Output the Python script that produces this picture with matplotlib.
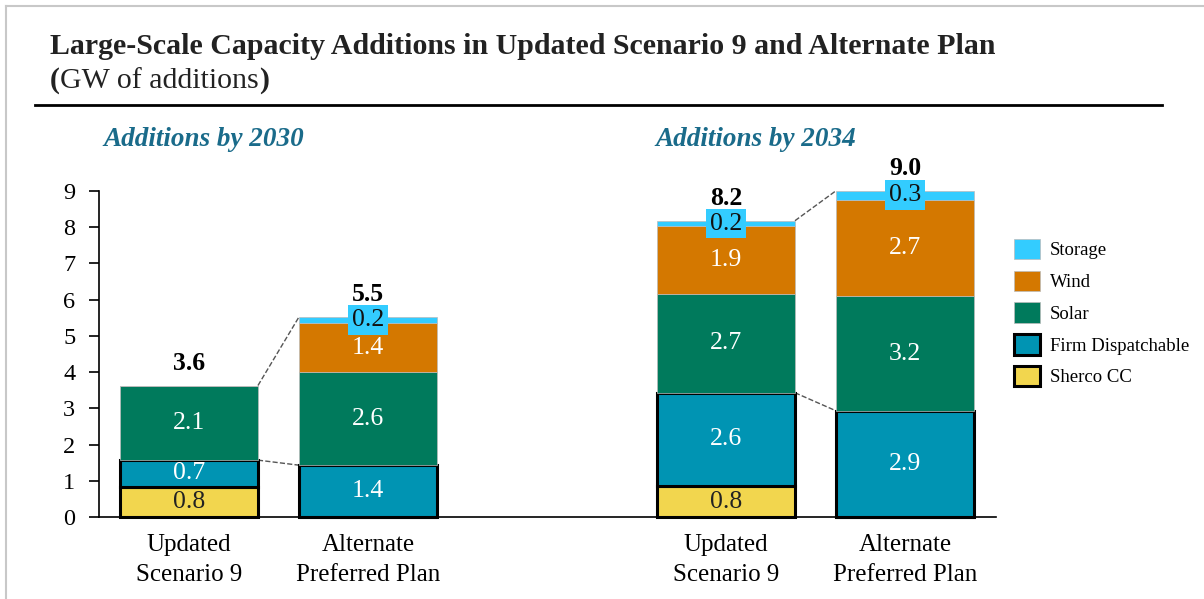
import matplotlib.pyplot as plt
import numpy as np

# bars: 2030 Updated, 2030 Alternate, 2034 Updated, 2034 Alternate
bar_pos = [0, 1, 3, 4]
bar_names = ['Updated\nScenario 9', 'Alternate\nPreferred Plan',
             'Updated\nScenario 9', 'Alternate\nPreferred Plan']

sherco = [0.84, 0.0, 0.85, 0.0]
firm = [0.73, 1.43, 2.58, 2.93]
solar = [2.06, 2.56, 2.74, 3.16]
wind = [0.0, 1.37, 1.85, 2.66]
storage = [0.0, 0.17, 0.16, 0.26]

series = ['Sherco CC', 'Firm Dispatchable', 'Solar', 'Wind', 'Storage']
colors = ['#F2D64E', '#0094B3', '#007A5C', '#D47800', '#33CCFF']
text_colors = ['#222222', 'white', 'white', 'white', '#111111']

section_titles = ['Additions by 2030', 'Additions by 2034']

plt.rcParams['font.family'] = ['Liberation Serif', 'DejaVu Serif']

fig = plt.figure(figsize=(12.04, 5.99), dpi=100)
ax = fig.add_axes([99 / 1204, 1 - 517 / 599, (996 - 99) / 1204, (517 - 191) / 599])

width = 0.77
values = [sherco, firm, solar, wind, storage]
bottom = np.zeros(4)
containers = []
for name, vals, col, tcol in zip(series, values, colors, text_colors):
    vals = np.array(vals)
    boxed = name in ('Sherco CC', 'Firm Dispatchable')
    bc = ax.bar(bar_pos, vals, width, bottom=bottom, color=col,
                edgecolor='black' if boxed else '#BBBBBB',
                linewidth=2.2 if boxed else 0.5, label=name, zorder=3,
                clip_on=False)
    containers.append(bc)
    for x, v, b in zip(bar_pos, vals, bottom):
        if v <= 0:
            continue
        if name == 'Storage':
            ax.text(x, b + v / 2, f'{v:.1f}', ha='center', va='center',
                    fontsize=18.5, color=tcol, zorder=5,
                    bbox=dict(boxstyle='square,pad=0.15', fc=col, ec='none'))
        else:
            ax.text(x, b + v / 2, f'{v:.1f}', ha='center', va='center',
                    fontsize=18.5, color=tcol, zorder=5)
    bottom = bottom + vals

totals = bottom
for x, t in zip(bar_pos, totals):
    ax.text(x, t + 0.3, f'{t:.1f}', ha='center', va='bottom',
            fontsize=18.5, fontweight='bold', zorder=5)

# dashed connectors between paired bars
firm_top = np.array(sherco) + np.array(firm)
for i in (0, 2):
    x0 = bar_pos[i] + width / 2
    x1 = bar_pos[i + 1] - width / 2
    ax.plot([x0, x1], [totals[i], totals[i + 1]], ls='--', color='#555555',
            lw=1, zorder=2, clip_on=False)
    ax.plot([x0, x1], [firm_top[i], firm_top[i + 1]], ls='--', color='#555555',
            lw=1, zorder=2, clip_on=False)

ax.set_xlim(-0.503, 4.508)
ax.set_ylim(0, 9)
ax.set_yticks(range(10))
ax.set_xticks(bar_pos)
ax.set_xticklabels(bar_names, fontsize=18, linespacing=1.5)
ax.tick_params(axis='x', length=0, pad=12)
ax.tick_params(axis='y', length=7, width=1.2, labelsize=17.5, pad=10, direction='out')
for s in ('top', 'right'):
    ax.spines[s].set_visible(False)
ax.spines['left'].set_linewidth(1.2)
ax.spines['bottom'].set_linewidth(1.2)

# section titles
fig.text(103 / 1204, 1 - 140 / 599, section_titles[0], fontsize=19.5,
         fontweight='bold', style='italic', color='#1A6B8A', va='center')
fig.text(655 / 1204, 1 - 140 / 599, section_titles[1], fontsize=19.5,
         fontweight='bold', style='italic', color='#1A6B8A', va='center')

# legend
order = [4, 3, 2, 1, 0]
leg = ax.legend([containers[i] for i in order], [series[i] for i in order],
                loc='upper left', bbox_to_anchor=(997 / 1204, 1 - 222 / 599),
                bbox_transform=fig.transFigure, frameon=False, fontsize=13.5,
                handlelength=1.4, handleheight=1.3, labelspacing=0.6,
                handletextpad=0.5)

# title block
fig.text(50 / 1204, 1 - 47 / 599,
         'Large-Scale Capacity Additions in Updated Scenario 9 and Alternate Plan',
         fontsize=21.5, fontweight='bold', color='#222222', va='center')
t1 = fig.text(50 / 1204, 1 - 81 / 599, '(', fontsize=21.5, fontweight='bold',
              color='#222222', va='center')
t2 = ax.annotate('GW of additions', xy=(1, 0), xycoords=t1, fontsize=21.5,
                 color='#222222', va='bottom', ha='left')
ax.annotate(')', xy=(1, 0), xycoords=t2, fontsize=21.5, fontweight='bold',
            color='#222222', va='bottom', ha='left')

fig.add_artist(plt.Line2D([35 / 1204, 1162 / 1204], [1 - 105 / 599] * 2,
                          color='black', lw=2))
fig.add_artist(plt.Line2D([6 / 1204, 1], [1 - 6 / 599] * 2, color='#C8C8C8', lw=1.5))
fig.add_artist(plt.Line2D([6 / 1204] * 2, [0, 1 - 6 / 599], color='#C8C8C8', lw=1.5))

fig.savefig('out.png', dpi=100)
